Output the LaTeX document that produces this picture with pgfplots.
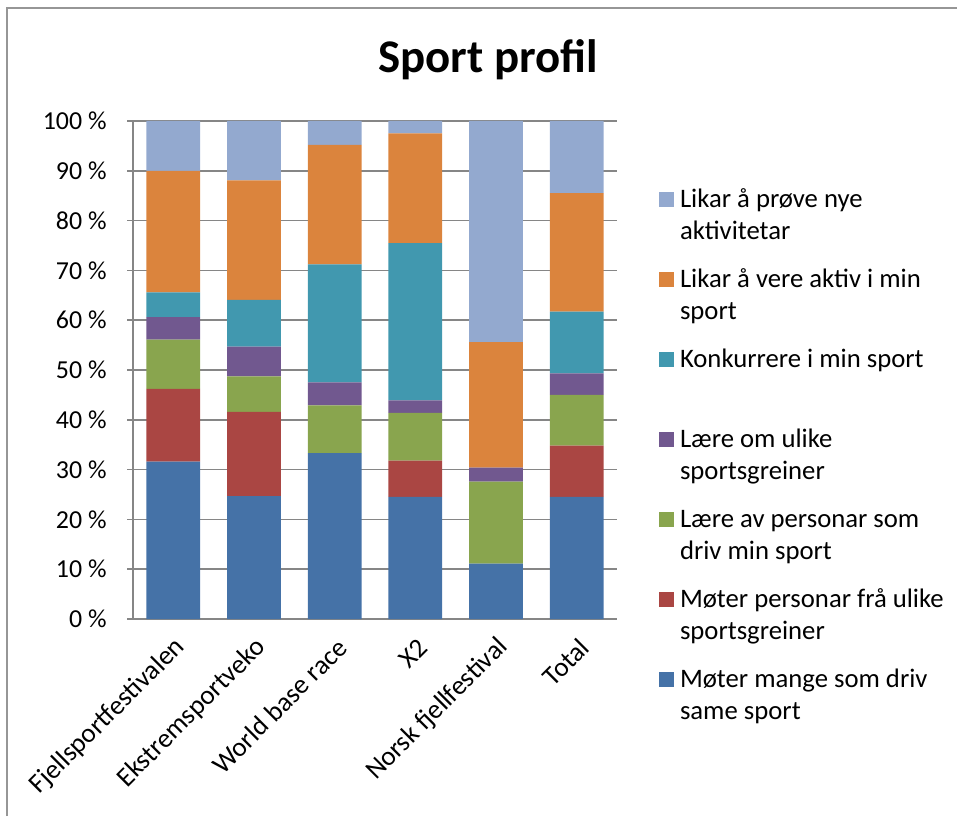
\documentclass[border=0pt]{standalone}
\usepackage{pgfplots}
\pgfplotsset{compat=1.18}
\usepackage{fontspec}
\setmainfont{Carlito}
\definecolor{cBlue}{RGB}{69,114,167}
\definecolor{cRed}{RGB}{170,70,67}
\definecolor{cGreen}{RGB}{137,165,78}
\definecolor{cPurple}{RGB}{113,88,143}
\definecolor{cTeal}{RGB}{65,152,175}
\definecolor{cOrange}{RGB}{219,132,61}
\definecolor{cLight}{RGB}{147,169,207}
\definecolor{gridgray}{RGB}{134,134,134}
\definecolor{framegray}{RGB}{150,150,150}
\begin{document}
\begin{tikzpicture}[x=1bp,y=1bp]
\path[use as bounding box] (0,0) rectangle (478.5,408);
\draw[framegray, line width=1bp] (3.5,0) -- (3.5,404) -- (478.5,404);
\node[font=\bfseries\fontsize{23.5}{28}\selectfont, anchor=base, inner sep=0pt] at (244,372) {Sport profil};
\begin{axis}[
  at={(66.5bp,98.5bp)}, anchor=south west,
  width=242bp, height=249bp, scale only axis,
  ybar stacked, bar width=26.9bp,
  xmin=-0.5, xmax=5.5, ymin=0, ymax=100,
  xtick={0,1,2,3,4,5},
  xticklabels={Fjellsportfestivalen, Ekstremsportveko, World base race, X2, Norsk fjellfestival, Total},
  ytick={0,10,...,100},
  yticklabel={\pgfmathprintnumber{\tick}\ \%},
  axis x line=bottom, axis y line=left,
  axis line style={-, gridgray, line width=0.75bp},
  ymajorgrids, grid style={gridgray, line width=0.75bp},
  xtick style={draw=none},
  ytick style={gridgray, line width=0.75bp},
  tick align=outside, major tick length=3bp,
  tick label style={font=\fontsize{13}{15.6}\selectfont, text=black},
  yticklabel style={anchor=east, inner sep=0pt, xshift=-10bp},
  xticklabel style={font=\fontsize{13.6}{16}\selectfont, xshift=4bp, yshift=-9bp, rotate=45, anchor=east, inner sep=0pt},
  /pgf/number format/assume math mode=true,
  reverse legend,
  legend image code/.code={\fill[#1] (0bp,16bp) rectangle (7.5bp,23.5bp);},
  legend style={at={(1.0868,0.8713)}, anchor=north west, draw=none, fill=none,
    inner sep=0pt, outer sep=0pt, row sep=8.1bp, column sep=3bp,
    font=\fontsize{13.4}{16}\selectfont,
    cells={anchor=base west, align=left},
    nodes={inner sep=0pt, text depth=}},
]
\addplot[fill=cBlue, draw=none] coordinates {(0,31.6) (1,24.7) (2,33.3) (3,24.5) (4,11.1) (5,24.5)};
\addplot[fill=cRed, draw=none] coordinates {(0,14.6) (1,16.9) (2,0) (3,7.3) (4,0) (5,10.3)};
\addplot[fill=cGreen, draw=none] coordinates {(0,9.9) (1,7.1) (2,9.6) (3,9.6) (4,16.5) (5,10.2)};
\addplot[fill=cPurple, draw=none] coordinates {(0,4.5) (1,6.0) (2,4.6) (3,2.5) (4,2.8) (5,4.3)};
\addplot[fill=cTeal, draw=none] coordinates {(0,5.0) (1,9.4) (2,23.7) (3,31.6) (4,0) (5,12.4)};
\addplot[fill=cOrange, draw=none] coordinates {(0,24.4) (1,24.0) (2,24.0) (3,22.0) (4,25.2) (5,23.8)};
\addplot[fill=cLight, draw=none] coordinates {(0,10.0) (1,11.9) (2,4.8) (3,2.5) (4,44.4) (5,14.5)};
\legend{\strut Møter mange som driv\\same sport\strut,
        \strut Møter personar frå ulike\\sportsgreiner\strut,
        \strut Lære av personar som\\driv min sport\strut,
        \strut Lære om ulike\\sportsgreiner\strut,
        \strut Konkurrere i min sport\\\strut,
        \strut Likar å vere aktiv i min\\sport\strut,
        \strut Likar å prøve nye\\aktivitetar\strut}
\end{axis}
\end{tikzpicture}
\end{document}
